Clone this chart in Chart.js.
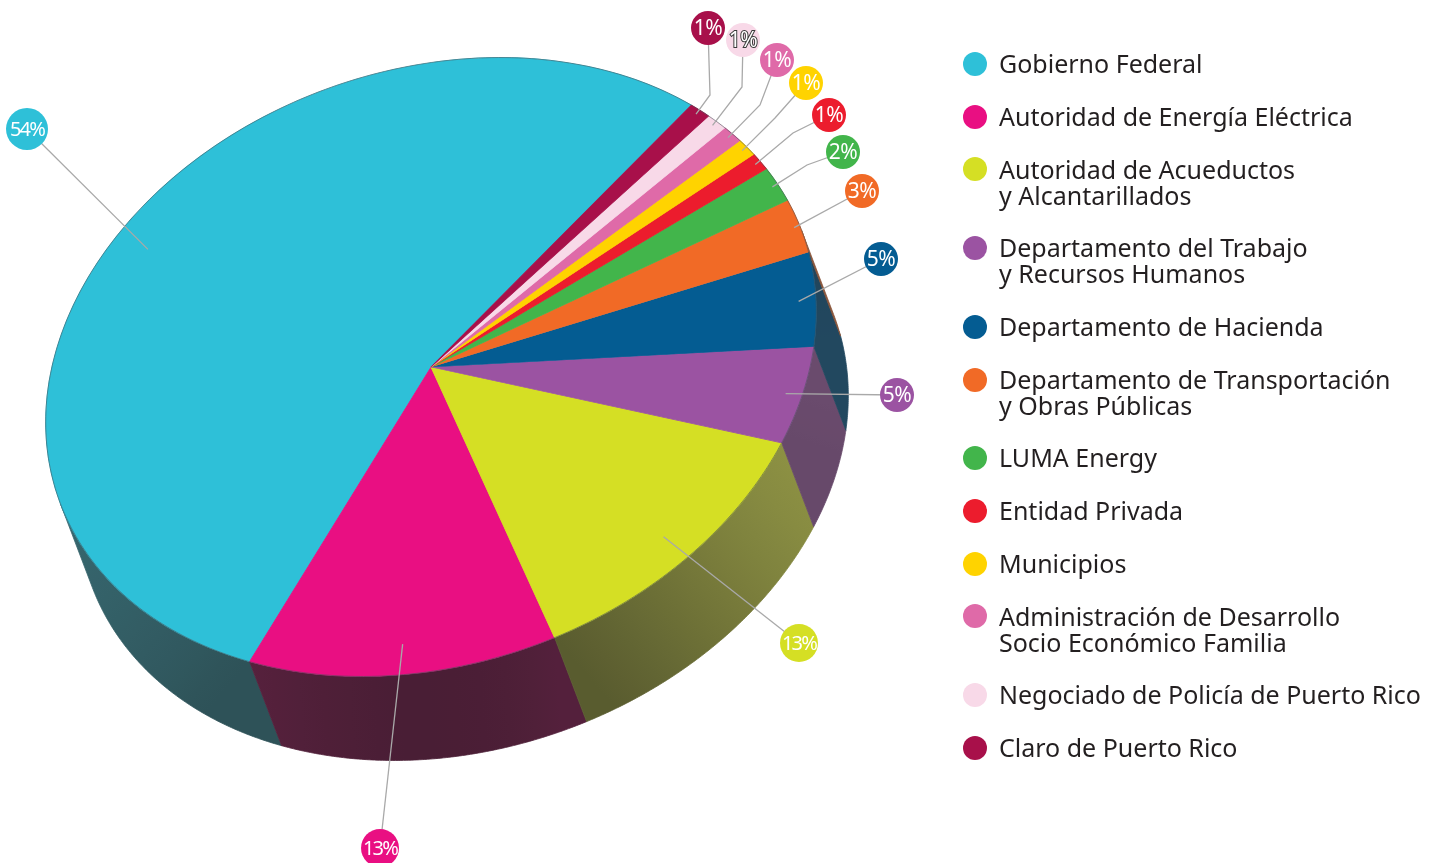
<!DOCTYPE html>
<html>
<head>
<meta charset="utf-8">
<script src="https://cdn.jsdelivr.net/npm/chart.js@4.4.1/dist/chart.umd.min.js"></script>
<style>
html,body{margin:0;padding:0;background:#fff;}
#wrap{position:absolute;left:0;top:0;width:1438px;height:863px;}
#legend{position:absolute;left:0;top:0;width:1438px;height:863px;font-family:'Noto Sans',sans-serif;color:#231f20;pointer-events:none;}
.dot{position:absolute;width:24px;height:24px;border-radius:50%;}
.txt{position:absolute;font-size:25px;line-height:26px;white-space:nowrap;}
</style>
</head>
<body>
<div id="wrap"><canvas id="c" width="1438" height="863"></canvas></div>
<div id="legend"></div>
<script>
// ---------- data ----------
const categories = [
  ['Gobierno Federal'],
  ['Autoridad de Energía Eléctrica'],
  ['Autoridad de Acueductos', 'y Alcantarillados'],
  ['Departamento del Trabajo', 'y Recursos Humanos'],
  ['Departamento de Hacienda'],
  ['Departamento de Transportación', 'y Obras Públicas'],
  ['LUMA Energy'],
  ['Entidad Privada'],
  ['Municipios'],
  ['Administración de Desarrollo', 'Socio Económico Familia'],
  ['Negociado de Policía de Puerto Rico'],
  ['Claro de Puerto Rico']
];
const shares = [54, 13, 13, 5, 5, 3, 2, 1, 1, 1, 1, 1];
const colors = ['#2ec0d8', '#e90f82', '#d5df24', '#9b53a2', '#045c92', '#f16a26', '#42b54b',
                '#ec1c2d', '#ffd300', '#df6aa8', '#f8d9e8', '#a8104a'];

// ---------- styling / geometry of the 3D look ----------
const ELL = {cx: 431, cy: 367, a: 395, b: 297, tilt: -19.5};   // top-face ellipse
const DEPTH = {dx: 32, dy: 84};                                  // extrusion
const callouts = [
  {c: [27, 129],  r: 21, via: []},
  {c: [380, 848], r: 19, via: []},
  {c: [799, 643], r: 19, via: []},
  {c: [897, 395], r: 17, via: []},
  {c: [881, 259], r: 17, via: []},
  {c: [862, 191], r: 17, via: []},
  {c: [843, 152], r: 17, via: [[807, 165]]},
  {c: [829, 115], r: 17, via: [[793, 133]]},
  {c: [806, 83],  r: 17, via: [[775, 118]]},
  {c: [777, 60],  r: 17, via: [[760, 105]]},
  {c: [743, 40],  r: 17, via: [[742, 87]]},
  {c: [708, 28],  r: 17, via: [[710, 95]]}
];

// ---------- helpers ----------
const th = ELL.tilt * Math.PI / 180;
const ct = Math.cos(th), st = Math.sin(th);
// M = R(th) * diag(a,-b): maps Chart.js unit circle to the tilted ellipse
const M = [[ct * ELL.a, st * ELL.b], [st * ELL.a, -ct * ELL.b]];
function P(al) { return {x: ELL.cx + M[0][0] * Math.cos(al) + M[0][1] * Math.sin(al),
                         y: ELL.cy + M[1][0] * Math.cos(al) + M[1][1] * Math.sin(al)}; }
const det = M[0][0] * M[1][1] - M[0][1] * M[1][0];
const w = {x: ( M[1][1] * DEPTH.dx - M[0][1] * DEPTH.dy) / det,
           y: (-M[1][0] * DEPTH.dx + M[0][0] * DEPTH.dy) / det};
const beta = Math.atan2(w.y, w.x);

function hexRgb(h) { const n = parseInt(h.slice(1), 16); return [(n >> 16) & 255, (n >> 8) & 255, n & 255]; }
function shade(al) {
  const phi = -al * 180 / Math.PI;
  const c1 = Math.max(0, Math.cos((phi - 25) * Math.PI / 180));
  const c2 = Math.max(0, Math.cos((phi - 180) * Math.PI / 180));
  return 0.25 + 0.35 * c1 * c1 + 0.2 * c2 * c2;
}
function sideColor(hex, al) {
  const f = shade(al), c = hexRgb(hex).map(v => v * f + 20);
  const g = 0.3 * c[0] + 0.59 * c[1] + 0.11 * c[2];
  const ds = 0.28;
  return 'rgb(' + c.map(v => Math.round(Math.min(255, v * (1 - ds) + g * ds))).join(',') + ')';
}

function drawBand(ctx, lo, hi, hex) {
  const N = Math.max(2, Math.ceil((hi - lo) / (0.4 * Math.PI / 180)));
  const pts = [];
  for (let j = 0; j <= N; j++) pts.push(P(lo + (hi - lo) * j / N));
  ctx.beginPath();
  pts.forEach((p, j) => j ? ctx.lineTo(p.x, p.y) : ctx.moveTo(p.x, p.y));
  for (let j = N; j >= 0; j--) ctx.lineTo(pts[j].x + DEPTH.dx, pts[j].y + DEPTH.dy);
  ctx.closePath();
  const p0 = pts[0], p1 = pts[N];
  const vx = p1.x - p0.x, vy = p1.y - p0.y, L2 = vx * vx + vy * vy || 1;
  const g = ctx.createLinearGradient(p0.x, p0.y, p1.x, p1.y);
  for (let j = 0; j <= 12; j++) {
    const al = lo + (hi - lo) * j / 12, p = P(al);
    let t = ((p.x - p0.x) * vx + (p.y - p0.y) * vy) / L2;
    t = Math.max(0, Math.min(1, t));
    g.addColorStop(t, sideColor(hex, al));
  }
  ctx.fillStyle = g; ctx.strokeStyle = g; ctx.lineWidth = 0.8;
  ctx.fill(); ctx.stroke();
}

const pie3d = {
  id: 'pie3d',
  beforeDatasetsDraw(chart) {
    const ctx = chart.ctx;
    const els = chart.getDatasetMeta(0).data;
    if (!els.length) return;
    ctx.save();
    els.forEach((el, i) => {
      const s = el.startAngle, e = el.endAngle;
      for (let k = -3; k <= 3; k++) {
        const lo = Math.max(s, beta - Math.PI / 2 + 2 * Math.PI * k);
        const hi = Math.min(e, beta + Math.PI / 2 + 2 * Math.PI * k);
        if (hi - lo > 1e-5) drawBand(ctx, lo, hi, colors[i]);
      }
    });
    ctx.restore();
    // map Chart.js circle onto the tilted ellipse
    const el0 = els[0], r = el0.outerRadius;
    const A = [[M[0][0] / r, M[0][1] / r], [M[1][0] / r, M[1][1] / r]];
    const tx = ELL.cx - (A[0][0] * el0.x + A[0][1] * el0.y);
    const ty = ELL.cy - (A[1][0] * el0.x + A[1][1] * el0.y);
    ctx.save();
    ctx.transform(A[0][0], A[1][0], A[0][1], A[1][1], tx, ty);
  },
  afterDatasetsDraw(chart) {
    const ctx = chart.ctx;
    ctx.restore();
    const els = chart.getDatasetMeta(0).data;
    // rim
    ctx.save();
    ctx.beginPath();
    for (let j = 0; j <= 360; j++) { const p = P(j * Math.PI / 180); j ? ctx.lineTo(p.x, p.y) : ctx.moveTo(p.x, p.y); }
    ctx.closePath();
    ctx.strokeStyle = 'rgba(70,80,88,0.55)'; ctx.lineWidth = 1; ctx.stroke();
    ctx.restore();
    // callouts
    ctx.save();
    els.forEach((el, i) => {
      const co = callouts[i];
      const mid = (el.startAngle + el.endAngle) / 2;
      const k = shares[i] >= 10 ? 0.9 : (shares[i] >= 5 ? 0.955 : 0.985);
      const q = P(mid);
      const inner = {x: ELL.cx + (q.x - ELL.cx) * k, y: ELL.cy + (q.y - ELL.cy) * k};
      ctx.beginPath();
      ctx.moveTo(co.c[0], co.c[1]);
      co.via.forEach(v => ctx.lineTo(v[0], v[1]));
      ctx.lineTo(inner.x, inner.y);
      ctx.strokeStyle = '#a9a9a9'; ctx.lineWidth = 1.3; ctx.stroke();
    });
    els.forEach((el, i) => {
      const co = callouts[i];
      ctx.beginPath();
      ctx.arc(co.c[0], co.c[1], co.r, 0, Math.PI * 2);
      ctx.fillStyle = colors[i]; ctx.fill();
      const txt = Math.round(shares[i]) + '%';
      const two = txt.length > 2;
      ctx.font = (two ? '20px' : '21px') + " 'Noto Sans', sans-serif";
      ctx.letterSpacing = two ? '-1.8px' : '-0.6px';
      ctx.textAlign = 'center'; ctx.textBaseline = 'middle';
      if (i === 10) {
        ctx.lineWidth = 2; ctx.strokeStyle = '#3a3a3a';
        ctx.strokeText(txt, co.c[0], co.c[1] + 1);
      }
      ctx.fillStyle = '#ffffff';
      ctx.fillText(txt, co.c[0], co.c[1] + 1);
    });
    ctx.restore();
  }
};

new Chart(document.getElementById('c'), {
  type: 'pie',
  data: {
    labels: categories.map(l => l.join(' ')),
    datasets: [{data: shares, backgroundColor: colors, borderColor: colors, borderWidth: 1, clip: false}]
  },
  options: {
    responsive: false,
    animation: false,
    events: [],
    rotation: 122.6,
    layout: {padding: 0},
    plugins: {legend: {display: false}, tooltip: {enabled: false}}
  },
  plugins: [pie3d]
});

// ---------- legend ----------
const leg = document.getElementById('legend');
let cy = 64;
categories.forEach((lines, i) => {
  const d = document.createElement('div');
  d.className = 'dot';
  d.style.left = '963px'; d.style.top = (cy - 12) + 'px'; d.style.background = colors[i];
  leg.appendChild(d);
  const t = document.createElement('div');
  t.className = 'txt';
  t.style.left = '999px'; t.style.top = (cy - 13.8) + 'px';
  t.innerHTML = lines.join('<br>');
  leg.appendChild(t);
  cy += 52.7 + 26 * (lines.length - 1);
});
</script>
</body>
</html>
